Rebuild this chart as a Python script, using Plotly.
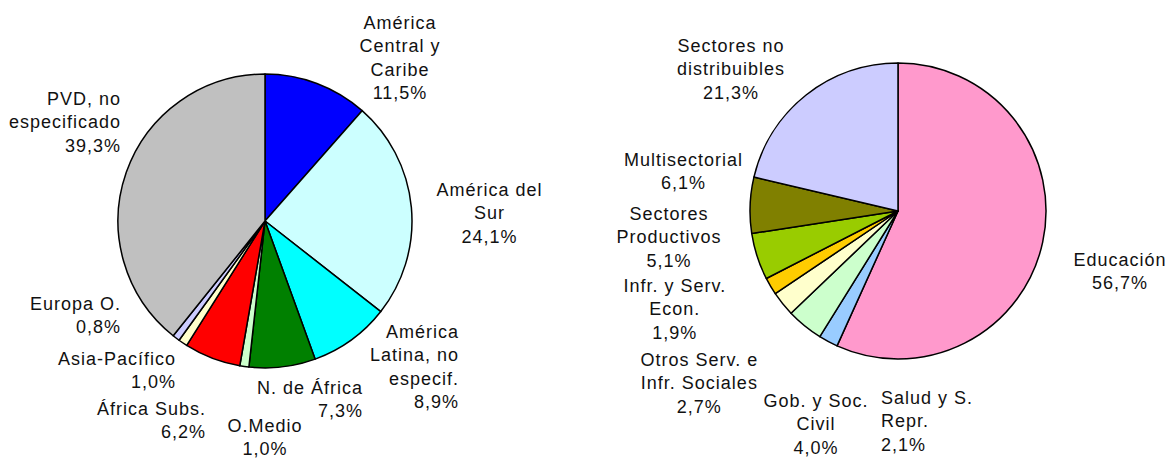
import plotly.graph_objects as go

W, H = 1169, 459

# Left pie: regions
region_labels = ["América Central y Caribe", "América del Sur", "América Latina, no especif.",
                 "N. de África", "O.Medio", "África Subs.", "Asia-Pacífico", "Europa O.",
                 "PVD, no especificado"]
region_values = [11.5, 24.1, 8.9, 7.3, 1.0, 6.2, 1.0, 0.8, 39.3]
region_colors = ["#0000FF", "#CCFFFF", "#00FFFF", "#008000", "#CCFFCC", "#FF0000",
                 "#FFFFCC", "#CCCCFF", "#C0C0C0"]
region_text = ["América<br>Central y<br>Caribe<br>11,5%", "América del<br>Sur<br>24,1%",
               "América<br>Latina, no<br>especif.<br>8,9%", "N. de África<br>7,3%",
               "O.Medio<br>1,0%", "África Subs.<br>6,2%", "Asia-Pacífico<br>1,0%",
               "Europa O.<br>0,8%", "PVD, no<br>especificado<br>39,3%"]

# Right pie: sectors
sector_labels = ["Educación", "Salud y S. Repr.", "Gob. y Soc. Civil",
                 "Otros Serv. e Infr. Sociales", "Infr. y Serv. Econ.",
                 "Sectores Productivos", "Multisectorial", "Sectores no distribuibles"]
sector_values = [56.7, 2.1, 4.0, 2.7, 1.9, 5.1, 6.1, 21.3]
sector_colors = ["#FF99CC", "#99CCFF", "#CCFFCC", "#FFFFCC", "#FFCC00", "#99CC00",
                 "#808000", "#CCCCFF"]
sector_text = ["Educación<br>56,7%", "Salud y S.<br>Repr.<br>2,1%", "Gob. y Soc.<br>Civil<br>4,0%",
               "Otros Serv. e<br>Infr. Sociales<br>2,7%", "Infr. y Serv.<br>Econ.<br>1,9%",
               "Sectores<br>Productivos<br>5,1%", "Multisectorial<br>6,1%",
               "Sectores no<br>distribuibles<br>21,3%"]

# label placement (pixel anchor x, center y, x-anchor)
region_pos = [(400, 58, "center"), (490, 213, "center"), (462, 367, "right"),
              (366, 399, "right"), (265, 437, "center"), (208, 420, "right"),
              (178, 370, "right"), (123, 315, "right"), (123, 122, "right")]
sector_pos = [(1120, 271, "center"), (879, 421, "left"), (816, 424, "center"),
              (699, 383, "center"), (675, 309, "center"), (669, 237, "center"),
              (683, 171, "center"), (731, 69, "center")]

def px(x):
    return x / W

def py(y):
    return 1 - y / H

fig = go.Figure()
fig.add_trace(go.Pie(
    labels=region_labels, values=region_values, sort=False, direction="clockwise",
    rotation=0, textinfo="none", hoverinfo="label+percent",
    marker=dict(colors=region_colors, line=dict(color="#000000", width=1.5)),
    domain=dict(x=[px(265 - 147), px(265 + 147)], y=[py(368), py(74)]),
    showlegend=False,
))
fig.add_trace(go.Pie(
    labels=sector_labels, values=sector_values, sort=False, direction="clockwise",
    rotation=0, textinfo="none", hoverinfo="label+percent",
    marker=dict(colors=sector_colors, line=dict(color="#000000", width=1.5)),
    domain=dict(x=[px(898 - 148), px(898 + 148)], y=[py(359), py(63)]),
    showlegend=False,
))

annotations = []
for txt, (x, y, anc) in list(zip(region_text, region_pos)) + list(zip(sector_text, sector_pos)):
    annotations.append(dict(
        text=txt, x=px(x), y=py(y), xref="paper", yref="paper",
        xanchor=anc, yanchor="middle", align=anc,
        showarrow=False, font=dict(family="Liberation Sans, Arial", size=18, color="#111111"),
    ))

fig.update_layout(
    width=W, height=H, margin=dict(l=0, r=0, t=0, b=0),
    paper_bgcolor="white", plot_bgcolor="white",
    annotations=annotations,
)
post = (
    "document.body.style.margin='0';document.body.style.overflow='hidden';"
    "var st=document.createElement('style');"
    "st.textContent='.annotation-text{letter-spacing:1px;}';"
    "document.head.appendChild(st);"
)
fig.write_html("out.html", config={"displayModeBar": False}, post_script=post)
